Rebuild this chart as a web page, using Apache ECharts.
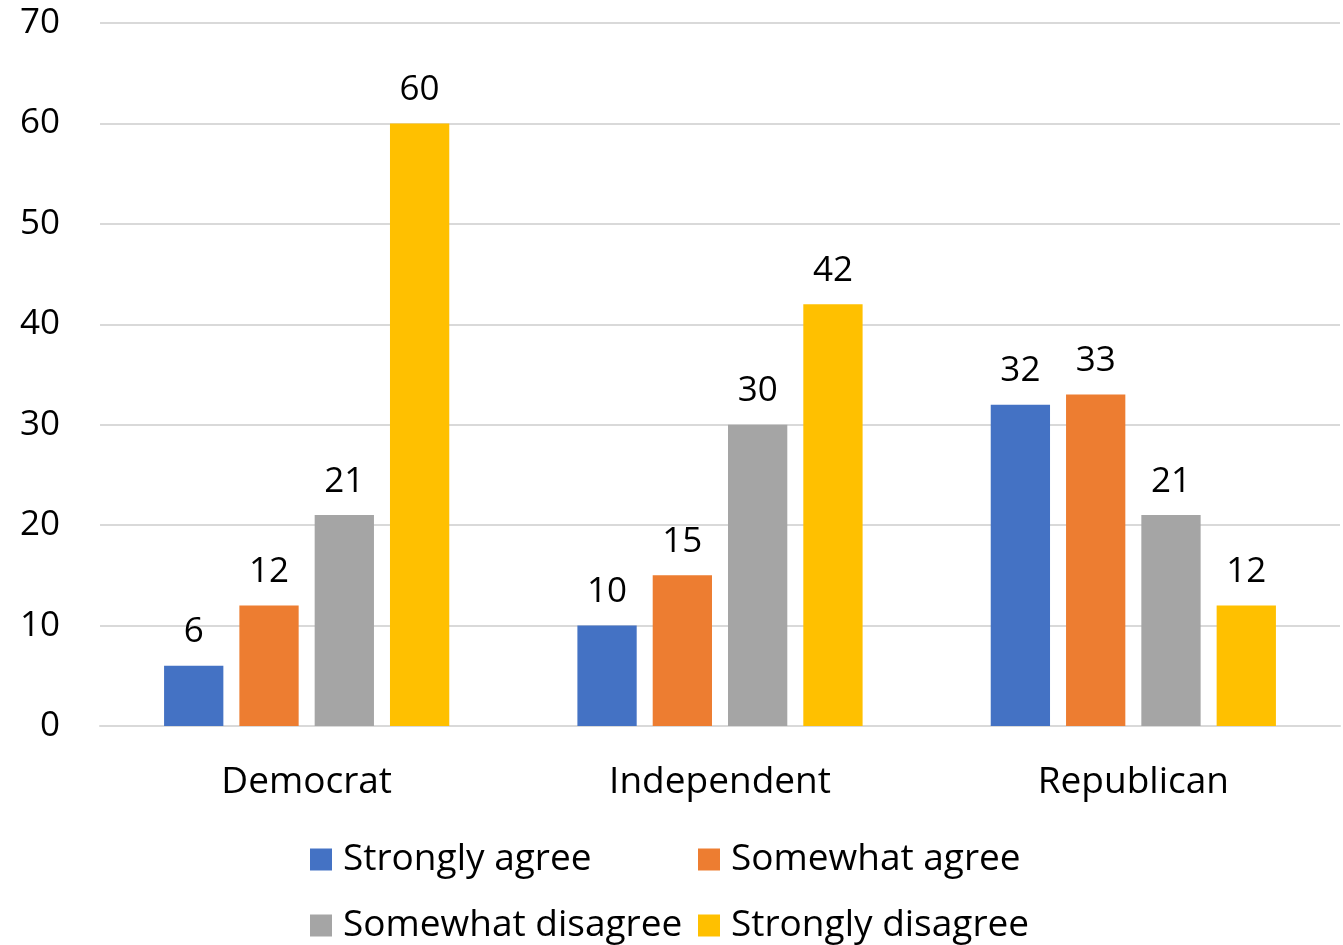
<!DOCTYPE html>
<html><head><meta charset="utf-8">
<script src="https://cdn.jsdelivr.net/npm/echarts@6/dist/echarts.min.js"></script>
<style>html,body{margin:0;padding:0;background:#fff}#c{width:1343px;height:945px}</style>
</head><body><div id="c"></div>
<script>
const categories = ['Democrat', 'Independent', 'Republican'];
const seriesNames = ['Strongly agree', 'Somewhat agree', 'Somewhat disagree', 'Strongly disagree'];
const stronglyAgree = [6, 10, 32];
const somewhatAgree = [12, 15, 33];
const somewhatDisagree = [21, 30, 21];
const stronglyDisagree = [60, 42, 12];
const colors = ['#4472C4', '#ED7D31', '#A5A5A5', '#FFC000'];
const values = [stronglyAgree, somewhatAgree, somewhatDisagree, stronglyDisagree];
const FONT = '"Open Sans", sans-serif';
const legendPos = [[310, 841], [698, 841], [310, 907], [698, 907]];
const chart = echarts.init(document.getElementById('c'));
chart.setOption({
  animation: false,
  color: colors,
  textStyle: { fontFamily: FONT },
  grid: { left: 100, right: 3, top: 23, bottom: 219, containLabel: false },
  xAxis: {
    type: 'category', data: categories,
    axisLine: { lineStyle: { color: '#d9d9d9', width: 2 } },
    axisTick: { show: false },
    axisLabel: { fontSize: 37, color: '#000', margin: 38, fontFamily: FONT }
  },
  yAxis: {
    type: 'value', min: 0, max: 70, interval: 10,
    axisLine: { show: false }, axisTick: { show: false },
    splitLine: { lineStyle: { color: '#d9d9d9', width: 2 } },
    axisLabel: { fontSize: 35, color: '#000', margin: 40, fontFamily: FONT }
  },
  legend: seriesNames.map((n, i) => ({
    left: legendPos[i][0], top: legendPos[i][1], padding: 0,
    itemWidth: 22, itemHeight: 22, icon: 'rect', data: [n],
    textStyle: { fontSize: 37, color: '#000', fontFamily: FONT, padding: [0, 0, 0, 6] }
  })),
  series: seriesNames.map((n, i) => ({
    name: n, type: 'bar', data: values[i],
    barGap: '27%', barCategoryGap: '31%',
    itemStyle: { color: colors[i] },
    label: { show: true, position: 'top', distance: 16, fontSize: 35, color: '#000', fontFamily: FONT }
  }))
});
</script></body></html>
